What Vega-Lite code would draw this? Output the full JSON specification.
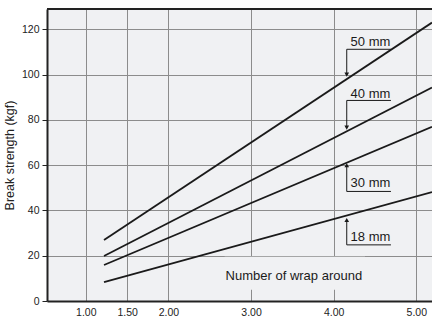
{
  "$schema": "https://vega.github.io/schema/vega-lite/v6.json",
  "width": 385,
  "height": 292,
  "autosize": {"type": "none"},
  "padding": {"left": 47, "top": 9, "right": 0, "bottom": 17},
  "background": "#ffffff",
  "config": {
    "view": {"fill": "#f0f1f3", "stroke": null},
    "font": "Liberation Sans",
    "axis": {"labelFont": "Liberation Sans", "titleFont": "Liberation Sans"}
  },
  "datasets": {
    "lines": [
      {"size": "50 mm", "wraps": 1.22, "strength": 27.0},
      {"size": "50 mm", "wraps": 5.19, "strength": 123.0},
      {"size": "40 mm", "wraps": 1.22, "strength": 19.9},
      {"size": "40 mm", "wraps": 5.19, "strength": 94.3},
      {"size": "30 mm", "wraps": 1.22, "strength": 15.9},
      {"size": "30 mm", "wraps": 5.19, "strength": 77.0},
      {"size": "18 mm", "wraps": 1.22, "strength": 8.3},
      {"size": "18 mm", "wraps": 5.19, "strength": 48.1}
    ],
    "labels": [
      {"label": "50 mm", "ax": 4.158, "ax2": 4.693, "tx": 4.205, "hline": 111.2, "tip": 98.6, "head": 100.0, "ty": 112.6, "shape": "triangle-down"},
      {"label": "40 mm", "ax": 4.158, "ax2": 4.693, "tx": 4.205, "hline": 88.6, "tip": 75.2, "head": 76.6, "ty": 89.9, "shape": "triangle-down"},
      {"label": "30 mm", "ax": 4.158, "ax2": 4.693, "tx": 4.205, "hline": 48.4, "tip": 61.4, "head": 60.0, "ty": 50.4, "shape": "triangle-up"},
      {"label": "18 mm", "ax": 4.158, "ax2": 4.693, "tx": 4.205, "hline": 24.8, "tip": 37.2, "head": 35.8, "ty": 26.3, "shape": "triangle-up"}
    ],
    "xtitle": [
      {"text": "Number of wrap around", "x": 3.518, "y": 11.1, "x1": 2.68, "x2": 4.38, "y1": 5.0, "y2": 19.6}
    ],
    "top": [{"y": 129}]
  },
  "layer": [
    {
      "data": {"name": "xtitle"},
      "mark": {"type": "rect", "fill": "#f0f1f3"},
      "encoding": {
        "x": {"field": "x1", "type": "quantitative", "scale": {"domain": [0.53, 5.19], "nice": false, "zero": false},
          "axis": {"values": [1, 1.5, 2, 3, 4, 5], "format": ".2f", "title": null, "grid": true, "gridColor": "#8c8c8c", "gridWidth": 1, "ticks": false, "domainColor": "#222222", "domainWidth": 2, "labelFontSize": 10.5, "labelColor": "#222222", "labelPadding": 6}},
        "x2": {"field": "x2"},
        "y": {"field": "y1", "type": "quantitative", "scale": {"domain": [0, 129], "nice": false},
          "axis": {"values": [0, 20, 40, 60, 80, 100, 120], "title": "Break strength (kgf)", "titleFontSize": 12.5, "titleFontWeight": "normal", "titleColor": "#222222", "titlePadding": 5, "grid": true, "gridColor": "#8c8c8c", "gridWidth": 1, "tickColor": "#222222", "tickSize": 5, "domainColor": "#222222", "domainWidth": 2, "labelFontSize": 10.5, "labelColor": "#222222", "labelPadding": 3}},
        "y2": {"field": "y2"}
      }
    },
    {
      "data": {"name": "top"},
      "mark": {"type": "rule", "color": "#222222", "strokeWidth": 2},
      "encoding": {"y": {"field": "y", "type": "quantitative"}}
    },
    {
      "data": {"name": "lines"},
      "mark": {"type": "line", "color": "#1a1a1a", "strokeWidth": 1.8},
      "encoding": {
        "x": {"field": "wraps", "type": "quantitative"},
        "y": {"field": "strength", "type": "quantitative"},
        "detail": {"field": "size"}
      }
    },
    {
      "data": {"name": "labels"},
      "mark": {"type": "rule", "color": "#1a1a1a", "strokeWidth": 1},
      "encoding": {
        "x": {"field": "ax", "type": "quantitative"},
        "y": {"field": "hline", "type": "quantitative"},
        "y2": {"field": "head"}
      }
    },
    {
      "data": {"name": "labels"},
      "mark": {"type": "rule", "color": "#1a1a1a", "strokeWidth": 1},
      "encoding": {
        "x": {"field": "ax", "type": "quantitative"},
        "x2": {"field": "ax2"},
        "y": {"field": "hline", "type": "quantitative"}
      }
    },
    {
      "data": {"name": "labels"},
      "mark": {"type": "point", "filled": true, "color": "#1a1a1a", "size": 22, "opacity": 1},
      "encoding": {
        "x": {"field": "ax", "type": "quantitative"},
        "y": {"field": "head", "type": "quantitative"},
        "shape": {"field": "shape", "type": "nominal", "scale": null}
      }
    },
    {
      "data": {"name": "labels"},
      "mark": {"type": "text", "align": "left", "baseline": "alphabetic", "fontSize": 13, "color": "#1a1a1a"},
      "encoding": {
        "x": {"field": "tx", "type": "quantitative"},
        "y": {"field": "ty", "type": "quantitative"},
        "text": {"field": "label"}
      }
    },
    {
      "data": {"name": "xtitle"},
      "mark": {"type": "text", "align": "center", "baseline": "middle", "fontSize": 13, "color": "#1a1a1a"},
      "encoding": {
        "x": {"field": "x", "type": "quantitative"},
        "y": {"field": "y", "type": "quantitative"},
        "text": {"field": "text"}
      }
    }
  ]
}
